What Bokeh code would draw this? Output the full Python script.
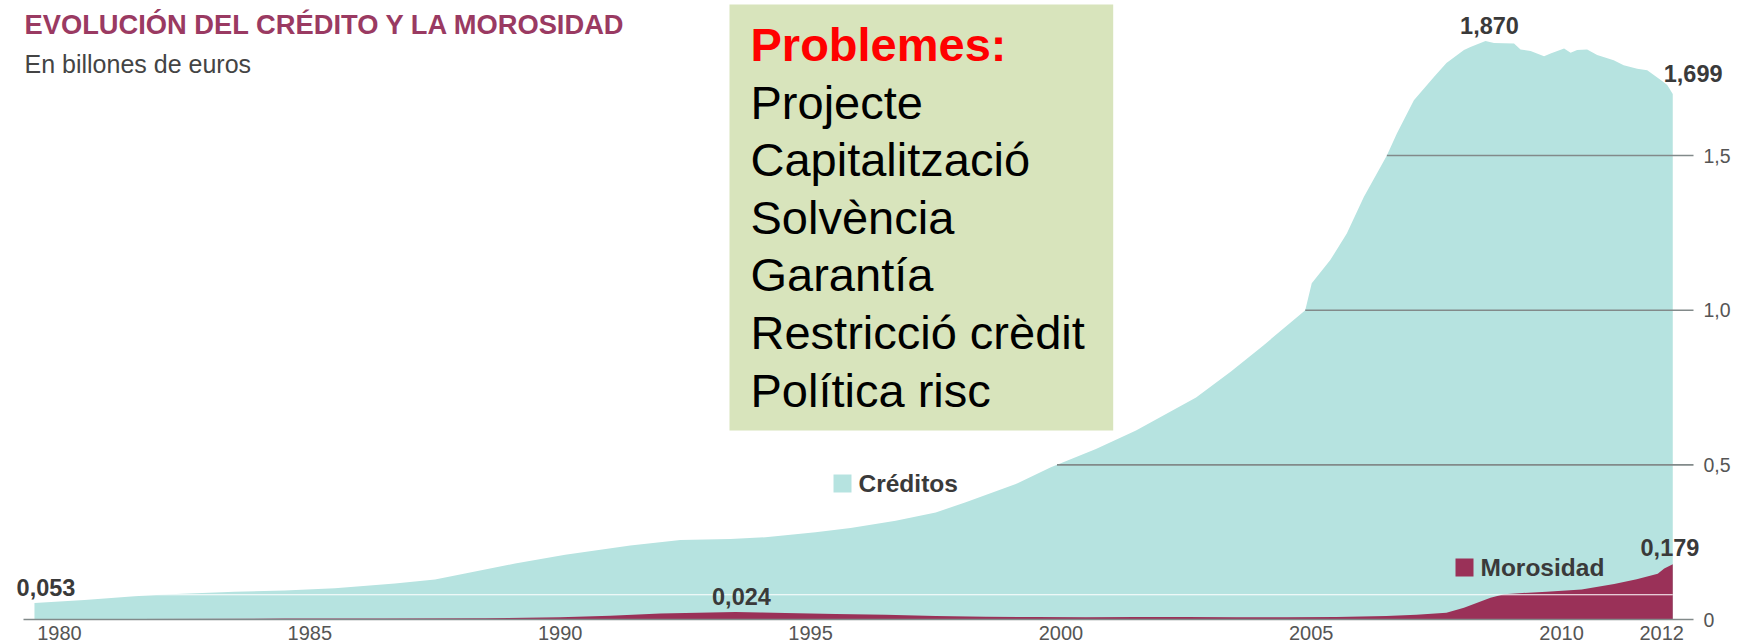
import numpy as np
from bokeh.plotting import figure
from bokeh.models import Range1d, LinearAxis, FixedTicker, Label, BoxAnnotation
from bokeh.embed import file_html
from bokeh.resources import INLINE

# ---------------- data ----------------
credit_t = [1980.0, 1981.0, 1982.0, 1982.7, 1984.0, 1985.0, 1986.0, 1987.2, 1988.0, 1988.6,
            1989.6, 1990.6, 1991.9, 1992.9, 1993.9, 1994.6, 1995.6, 1996.3, 1997.2, 1998.0,
            1998.6, 1999.6, 2000.3, 2001.2, 2002.0, 2002.6, 2003.2, 2003.89, 2004.55, 2005.22,
            2005.38, 2005.51, 2005.88, 2006.21, 2006.55, 2007.01, 2007.21, 2007.55, 2007.95, 2008.2,
            2008.55, 2008.68, 2008.98, 2009.15, 2009.55, 2009.68, 2009.88, 2010.15, 2010.28, 2010.55,
            2010.68, 2010.81, 2011.01, 2011.21, 2011.54, 2011.74, 2012.01, 2012.21, 2012.48, 2012.61,
            2012.72]
credit_v = [0.053, 0.063, 0.075, 0.082, 0.090, 0.094, 0.101, 0.116, 0.129, 0.149,
            0.181, 0.209, 0.239, 0.257, 0.260, 0.266, 0.282, 0.296, 0.319, 0.346,
            0.379, 0.438, 0.492, 0.551, 0.611, 0.664, 0.718, 0.801, 0.887, 0.978,
            1.000, 1.087, 1.162, 1.248, 1.366, 1.500, 1.571, 1.679, 1.754, 1.799,
            1.841, 1.851, 1.870, 1.864, 1.862, 1.843, 1.838, 1.821, 1.830, 1.846,
            1.832, 1.841, 1.843, 1.825, 1.808, 1.792, 1.781, 1.776, 1.744, 1.728,
            1.699]

moros_t = [1980.0, 1982.0, 1985.0, 1987.0, 1989.0, 1990.5, 1991.5, 1992.5, 1993.5, 1994.0,
           1994.5, 1995.0, 1996.0, 1997.0, 1998.0, 1999.0, 2000.0, 2001.0, 2002.0, 2003.0,
           2004.0, 2005.0, 2006.0, 2007.0, 2007.6, 2008.2, 2008.55, 2009.08, 2009.35, 2010.2,
           2010.9, 2011.55, 2012.0, 2012.42, 2012.55, 2012.72]
moros_v = [0.001, 0.002, 0.003, 0.003, 0.004, 0.007, 0.012, 0.019, 0.023, 0.024,
           0.023, 0.021, 0.018, 0.015, 0.011, 0.009, 0.008, 0.007, 0.008, 0.008,
           0.007, 0.007, 0.008, 0.011, 0.015, 0.022, 0.038, 0.070, 0.082, 0.090,
           0.097, 0.115, 0.130, 0.148, 0.165, 0.179]

year_ticks = [1980, 1985, 1990, 1995, 2000, 2005, 2010, 2012]
y_ticks = [0, 0.5, 1, 1.5]
y_tick_labels = ["0", "0,5", "1,0", "1,5"]
grid_levels = [0.5, 1.0, 1.5]
white_level = 0.08

title_text = "EVOLUCIÓN DEL CRÉDITO Y LA MOROSIDAD"
subtitle_text = "En billones de euros"
box_title = "Problemes:"
box_items = ["Projecte", "Capitalització", "Solvència", "Garantía", "Restricció crèdit", "Política risc"]
series_names = ["Créditos", "Morosidad"]

# ---------------- styling / layout ----------------
TEAL = "#b6e3e0"
MAROON = "#9a3158"
GRID = "#828a8a"
TITLE_C = "#9a3a62"
TXT = "#3a3a3a"
AX_TXT = "#555555"
FONT = "Liberation Sans"

W, H = 1737, 643
PX_YEAR = 50.07                      # px per year
X_ORIGIN = 59                        # px of the 1980 tick (mid-year)
X0 = 1980.5 - X_ORIGIN / PX_YEAR
X1 = 1980.5 + (W - X_ORIGIN) / PX_YEAR
GX0 = 1980.5 - (X_ORIGIN - 23) / PX_YEAR     # baseline start
GX1 = 1980.5 + (1693 - X_ORIGIN) / PX_YEAR   # gridline end / y axis
BASE, PX_UNIT = 619, 309.3
Y0 = -(H - BASE) / PX_UNIT
Y1 = BASE / PX_UNIT

p = figure(width=W, height=H, output_backend="svg", toolbar_location=None,
           x_axis_location=None, y_axis_location=None,
           x_range=Range1d(X0, X1), y_range=Range1d(Y0, Y1),
           min_border_left=0, min_border_right=0, min_border_top=0, min_border_bottom=0)
p.outline_line_color = None
p.grid.visible = False
p.background_fill_color = "white"
p.border_fill_color = "white"

ct = np.array(credit_t); cv = np.array(credit_v)
mt = np.array(moros_t); mv = np.array(moros_v)

p.varea(x=ct, y1=np.zeros_like(cv), y2=cv, fill_color=TEAL)

# gridlines drawn only from where the credit area reaches them
gx0, gx1, gy = [], [], []
for lvl in grid_levels:
    i = int(np.argmax(cv >= lvl))
    xc = ct[i - 1] + (lvl - cv[i - 1]) * (ct[i] - ct[i - 1]) / (cv[i] - cv[i - 1])
    gx0.append(xc); gx1.append(GX1); gy.append(lvl)
p.segment(x0=gx0, y0=gy, x1=gx1, y1=gy, line_color=GRID, line_width=1.6)

p.varea(x=mt, y1=np.zeros_like(mv), y2=mv, fill_color=MAROON)
p.segment(x0=[ct[0]], y0=[white_level], x1=[ct[-1]], y1=[white_level], line_color="white", line_width=1)
p.segment(x0=[GX0], y0=[0], x1=[GX1], y1=[0], line_color=GRID, line_width=1.6)

# axes
xt = [y + 0.5 for y in year_ticks]
xaxis = LinearAxis(fixed_location=0, ticker=FixedTicker(ticks=xt),
                   major_label_overrides={t: str(y) for t, y in zip(xt, year_ticks)},
                   axis_line_color=None,
                   major_tick_out=0, major_tick_in=0, minor_tick_out=0, minor_tick_in=0,
                   major_label_standoff=6, major_label_text_font_size="20px",
                   major_label_text_color=AX_TXT, major_label_text_font=FONT)
p.add_layout(xaxis, "below")
yaxis = LinearAxis(fixed_location=GX1, ticker=FixedTicker(ticks=y_ticks),
                   major_label_overrides={t: l for t, l in zip(y_ticks, y_tick_labels)},
                   axis_line_color=None, major_tick_out=0, major_tick_in=0,
                   minor_tick_out=0, minor_tick_in=0, major_label_standoff=10,
                   major_label_text_font_size="19.5px", major_label_text_color=AX_TXT,
                   major_label_text_font=FONT)
p.add_layout(yaxis, "right")


def slabel(cx, cy, text, size, color, bold=False, align="left"):
    p.add_layout(Label(x=cx, y=H - cy, x_units="screen", y_units="screen", text=text,
                       text_font=FONT, text_font_size=f"{size}px", text_color=color,
                       text_font_style="bold" if bold else "normal",
                       text_align=align, text_baseline="middle"))


# title
slabel(24, 24, title_text, 27.3, TITLE_C, bold=True)
slabel(24, 63.5, subtitle_text, 25, "#444444")

# green box
p.add_layout(BoxAnnotation(left=729, right=1112.7, top=H - 4, bottom=H - 430,
                           left_units="screen", right_units="screen",
                           top_units="screen", bottom_units="screen",
                           fill_color="#d8e4bc", fill_alpha=1, line_alpha=0))
slabel(750, 44, box_title, 47, "#ff0000", bold=True)
for k, item in enumerate(box_items):
    slabel(750, 44 + (k + 1) * 57.6, item, 47, "#000000")

# legend squares
for (l, t), col, name, tx, ty in [((833, 474), TEAL, series_names[0], 858, 483),
                                   ((1455, 558), MAROON, series_names[1], 1480, 567)]:
    p.add_layout(BoxAnnotation(left=l, right=l + 18, top=H - t, bottom=H - t - 18,
                               left_units="screen", right_units="screen",
                               top_units="screen", bottom_units="screen",
                               fill_color=col, fill_alpha=1, line_alpha=0))
    slabel(tx, ty, name, 24.5, TXT, bold=True)


def fmt(v):
    return f"{v:.3f}".replace(".", ",")


def vlabel(t, v, xo, yo):
    p.add_layout(Label(x=t, y=v, x_offset=xo, y_offset=yo, text=fmt(v), text_font=FONT,
                       text_font_size="23.5px", text_font_style="bold", text_color=TXT,
                       text_align="center", text_baseline="middle"))


ip = int(np.argmax(cv))
early = mt < 2000
im = int(np.argmax(np.where(early, mv, -1)))
vlabel(ct[0], cv[0], 11.5, 15.3)
vlabel(mt[im], mv[im], 6, 15.6)
vlabel(ct[ip], cv[ip], 4, 15.6)
vlabel(ct[-1], cv[-1], 20.4, 20.2)
vlabel(mt[-1], mv[-1], -2.8, 16.9)

open("out.html", "w").write(file_html(p, INLINE))
